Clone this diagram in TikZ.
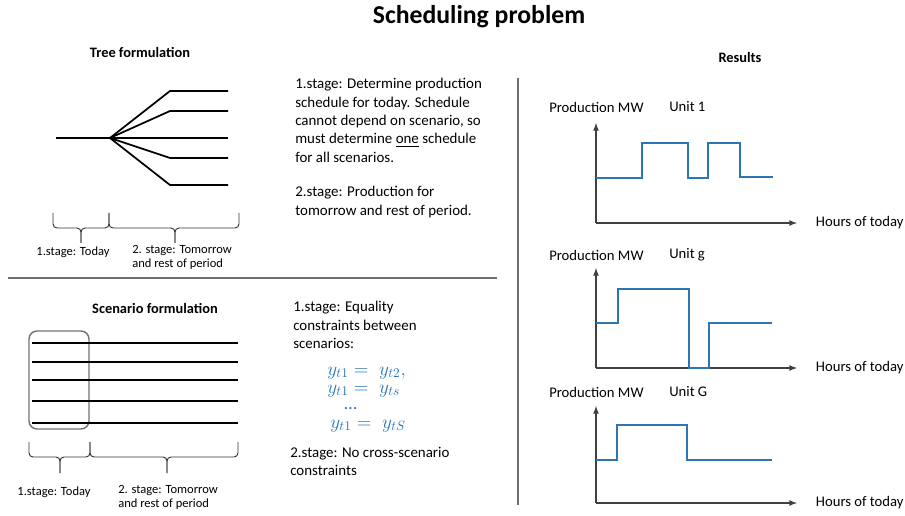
\documentclass[tikz,border=0pt]{standalone}
\usepackage{fontspec}
\setmainfont{Carlito}
\usepackage{xcolor}
\usepackage{tikz}
\usetikzlibrary{arrows, positioning, calc}
\definecolor{plotblue}{RGB}{46,117,182}
\definecolor{rulegray}{RGB}{110,110,110}
\tikzstyle{maintitle} = [font=\bfseries\fontsize{19.3}{23}\selectfont, inner sep=0]
\tikzstyle{heading} = [font=\bfseries\fontsize{10.8}{13}\selectfont, inner sep=0]
\tikzstyle{bodytext} = [anchor=north west, align=left, inner sep=0, font=\fontsize{11.2}{13.8}\selectfont]
\tikzstyle{stagelabel} = [align=left, inner sep=0, font=\fontsize{9.4}{10.8}\selectfont]
\tikzstyle{equation} = [anchor=base west, inner sep=0, text=plotblue, font=\fontsize{13.6}{16}\selectfont]
\tikzstyle{axislabel} = [anchor=west, inner sep=0, font=\fontsize{11}{13}\selectfont]
\tikzstyle{branch} = [line width=1.3pt, line join=round]
\tikzstyle{bracket} = [line width=0.7pt, draw=black!80, rounded corners=3pt]
\tikzstyle{todaybox} = [rectangle, draw=black!55, line width=1.1pt, rounded corners=6pt, minimum width=45pt, minimum height=73.5pt]
\tikzstyle{chartaxis} = [line width=1pt, draw=black!75, ->, >=latex]
\tikzstyle{profile} = [line width=1.4pt, draw=plotblue]
\tikzstyle{divider} = [line width=0.8pt, draw=rulegray]

\begin{document}
\begin{tikzpicture}[x=0.75pt, y=-0.75pt]
    \useasboundingbox (0,0) rectangle (905,516);

    % Headings
    \node (title) [maintitle] at (479,17) {Scheduling problem};
    \node (treehead) [heading] at (140,52) {Tree formulation};
    \node (scenhead) [heading] at (155,308) {Scenario formulation};
    \node (reshead) [heading] at (740,58) {Results};

    % Dividers
    \draw [divider] (8,278) -- (497,278);
    \draw [divider] (518,78) -- (518,505);

    % Tree
    \coordinate (root) at (56,138);
    \coordinate (fork) at (110,138);
    \coordinate (leafc) at (228,138);
    \draw [branch] (root) -- (fork) -- (leafc);
    \foreach \y/\n in {91/a, 111/b, 158/d, 185/e} {
        \coordinate (kink\n) at (170,\y);
        \coordinate (leaf\n) at (228,\y);
        \draw [branch] (fork) -- (kink\n) -- (leaf\n);
    }

    % Tree braces
    \coordinate (tl) at (53,213);
    \coordinate (tm) at (109,213);
    \coordinate (tr) at (239,213);
    \coordinate (ttip1) at (81,243);
    \coordinate (ttip2) at (175,243);
    \draw [bracket] (tl) -- ++(0,15) -| (ttip1);
    \draw [bracket] (tm) -- ++(0,15) -| (ttip1);
    \draw [bracket] (tm) -- ++(0,15) -| (ttip2);
    \draw [bracket] (tr) -- ++(0,15) -| (ttip2);
    \node (treetoday) [stagelabel] at (73,252) {1.stage: Today};
    \node (treerest) [stagelabel, anchor=north west] at (132,245) {2. stage: Tomorrow\\and rest of period};

    \node (treetext) [bodytext] at (295,78) {1.stage: Determine production\\schedule for today. Schedule\\cannot depend on scenario, so\\must determine \underline{one} schedule\\for all scenarios.\\[12pt]2.stage: Production for\\tomorrow and rest of period.};

    % Scenarios
    \node (today) [todaybox] at (59,380) {};
    \foreach \y in {343, 362, 380, 401, 423}
        \draw [branch] (32,\y) -- (238,\y);

    % Scenario braces
    \coordinate (sl) at (29,442);
    \coordinate (sm) at (90,442);
    \coordinate (sr) at (238,442);
    \coordinate (stip1) at (60,473);
    \coordinate (stip2) at (167,473);
    \draw [bracket] (sl) -- ++(0,15) -| (stip1);
    \draw [bracket] (sm) -- ++(0,15) -| (stip1);
    \draw [bracket] (sm) -- ++(0,15) -| (stip2);
    \draw [bracket] (sr) -- ++(0,15) -| (stip2);
    \node (scentoday) [stagelabel] at (54,492) {1.stage: Today};
    \node (scenrest) [stagelabel, anchor=north west] at (118,485) {2. stage: Tomorrow\\and rest of period};

    \node (scentext) [bodytext] at (293,301) {1.stage: Equality\\constraints between\\scenarios:};
    \node (eq1) [equation] at (327,375) {$y_{t1} =\; y_{t2},$};
    \node (eq2) [equation] at (327,393) {$y_{t1} =\; y_{ts}$};
    \node (eq3) [equation] at (344,409) {\dots};
    \node (eq4) [equation] at (330,428) {$y_{t1} =\; y_{tS}$};
    \node (scenlast) [bodytext] at (290,447) {2.stage: No cross-scenario\\constraints};

    % Results
    \foreach \n/\oy/\ty/\ly/\unit in {1/223/123/107/1, 2/368/268/255/g, 3/503/406/392/G} {
        \coordinate (o\n) at (596,\oy);
        \coordinate (ytip\n) at (596,\ty);
        \coordinate (xtip\n) at (797,\oy);
        \draw [chartaxis] (o\n) -- (ytip\n);
        \draw [chartaxis] (o\n) -- (xtip\n);
        \node (prod\n) [axislabel] at (549,\ly) {Production MW};
        \node (unit\n) [axislabel] at (669,\ly) {Unit \unit};
        \node (hours\n) [axislabel, right=14pt of xtip\n] {Hours of today};
    }
    \draw [profile] (596,178) -| (642,143) -| (688,178) -| (708,143) -| (740,177) -- (773,177);
    \draw [profile] (596,323) -| (618,289) -| (689,368) -| (709,323) -- (772,323);
    \draw [profile] (596,460) -| (617,425) -| (687,460) -- (772,460);
\end{tikzpicture}
\end{document}
